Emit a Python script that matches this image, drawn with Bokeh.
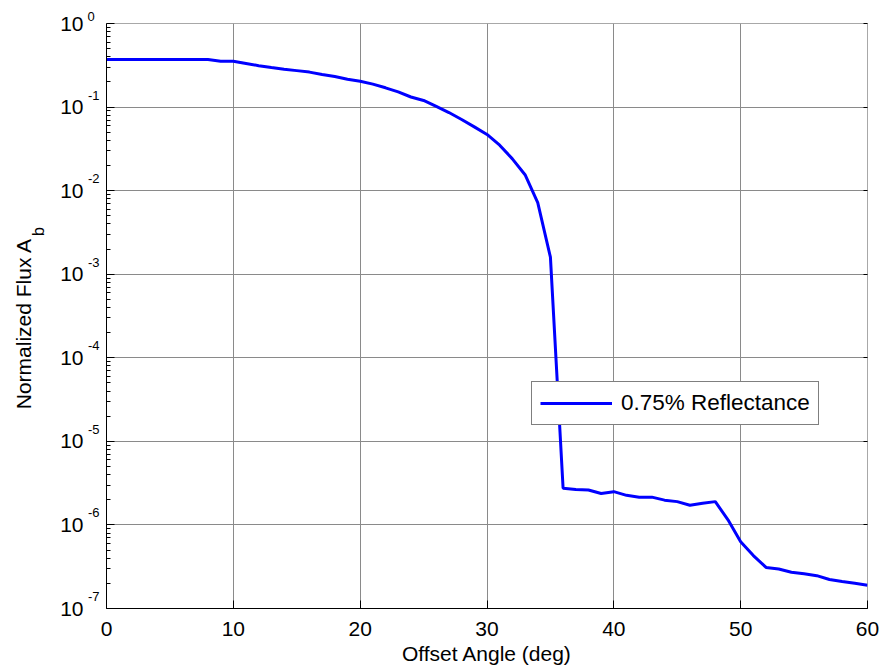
import numpy as np
from bokeh.plotting import figure
from bokeh.models import (Range1d, FixedTicker, Legend, LegendItem, LinearAxis, LogAxis,
                          LinearScale, CustomJSTickFormatter)
from bokeh.embed import file_html
from bokeh.resources import INLINE

# ---- data ----
angle_deg = list(range(61))
flux = [0.37, 0.37, 0.37, 0.37, 0.37, 0.37, 0.37, 0.37, 0.37, 0.354,
        0.354, 0.333, 0.313, 0.297, 0.284, 0.273, 0.262, 0.245, 0.232, 0.215,
        0.204, 0.188, 0.170, 0.152, 0.132, 0.120, 0.102, 0.086, 0.071, 0.058,
        0.047, 0.035, 0.024, 0.0155, 0.0072, 0.0016, 2.75e-6, 2.65e-6, 2.62e-6, 2.38e-6,
        2.5e-6, 2.26e-6, 2.15e-6, 2.15e-6, 1.98e-6, 1.9e-6, 1.72e-6, 1.82e-6, 1.9e-6, 1.15e-6,
        6.3e-7, 4.3e-7, 3.1e-7, 2.97e-7, 2.72e-7, 2.6e-7, 2.47e-7, 2.22e-7, 2.1e-7, 2.0e-7,
        1.9e-7]
x_ticks = [0, 10, 20, 30, 40, 50, 60]
y_exponents = [-7, -6, -5, -4, -3, -2, -1, 0]
y_tick_base = "10"
y_tick_exp_labels = ["-7", "-6", "-5", "-4", "-3", "-2", "-1", "0"]
series_label = "0.75% Reflectance"
x_label = "Offset Angle (deg)"
y_label_main = "Normalized Flux A"
y_label_sub = "b"

FONT = "Liberation Sans"
FS = "21px"

# layout helpers (positions of label texts, in decades of the y axis)
EXP_SHIFT = 0.1436          # superscripts sit ~12 px above their decade
Y_LABEL_MAIN_AT = -3.59
Y_LABEL_SUB_AT = -2.49

y_major = [10.0 ** e for e in y_exponents]
y_minor = [m * 10.0 ** e for e in y_exponents[:-1] for m in range(2, 10)]

p = figure(width=889, height=670,
           x_range=Range1d(x_ticks[0], x_ticks[-1]), y_range=Range1d(y_major[0], y_major[-1]),
           y_axis_type="log", output_backend="svg", toolbar_location=None,
           min_border_left=106, min_border_right=22, min_border_top=23,
           min_border_bottom=62)
p.outline_line_color = "#a8a8a8"
p.background_fill_color = "white"
p.border_fill_color = "white"

p.extra_y_ranges = {
    "exp": Range1d(y_exponents[0] - EXP_SHIFT, y_exponents[-1] - EXP_SHIFT),
    "lab": Range1d(y_exponents[0], y_exponents[-1]),
}
p.extra_y_scales = {"exp": LinearScale(), "lab": LinearScale()}


def list_formatter(ticks, labels):
    return CustomJSTickFormatter(args=dict(t=list(ticks), l=list(labels)), code="""
        for (let i = 0; i < t.length; i++) { if (Math.abs(t[i] - tick) < 1e-9) return l[i]; }
        return '';
    """)


def bare(axis):
    axis.axis_line_color = None
    axis.major_tick_line_color = None
    axis.minor_tick_line_color = None
    axis.major_tick_in = 0
    axis.major_tick_out = 0
    axis.minor_tick_in = 0
    axis.minor_tick_out = 0
    axis.major_label_text_color = "black"
    axis.major_label_text_font = FONT
    return axis


# x axis
xa = p.xaxis[0]
xa.ticker = FixedTicker(ticks=x_ticks)
xa.major_tick_in = 8
xa.major_tick_out = 0
xa.minor_tick_line_color = None
xa.axis_line_color = "black"
xa.major_label_text_font = FONT
xa.major_label_text_font_size = FS
xa.major_label_text_color = "black"
xa.major_label_standoff = 13
xa.axis_label = x_label
xa.axis_label_text_font = FONT
xa.axis_label_text_font_size = FS
xa.axis_label_text_font_style = "normal"
xa.axis_label_text_color = "black"
xa.axis_label_standoff = 3

# main y axis: line and ticks only
ya = p.yaxis[0]
ya.ticker = FixedTicker(ticks=y_major, minor_ticks=y_minor)
ya.major_tick_in = 8
ya.major_tick_out = 0
ya.minor_tick_in = 4
ya.minor_tick_out = 0
ya.axis_line_color = "black"
ya.formatter = CustomJSTickFormatter(code="return '';")
ya.major_label_standoff = 0

# superscript exponents (the top one, above the frame, is drawn by the title below)
ax_exp = bare(LinearAxis(y_range_name="exp", ticker=FixedTicker(ticks=y_exponents[:-1])))
ax_exp.formatter = list_formatter(y_exponents[:-1], y_tick_exp_labels[:-1])
ax_exp.major_label_text_font_size = "13px"
ax_exp.major_label_standoff = 7
p.add_layout(ax_exp, "left")

# "10" bases
ax_10 = bare(LogAxis(ticker=FixedTicker(ticks=y_major)))
ax_10.formatter = CustomJSTickFormatter(args=dict(b=y_tick_base), code="return b;")
ax_10.major_label_text_font_size = FS
ax_10.major_label_standoff = 1
p.add_layout(ax_10, "left")

# y label subscript and main text
ax_sub = bare(LinearAxis(y_range_name="lab", ticker=FixedTicker(ticks=[Y_LABEL_SUB_AT])))
ax_sub.formatter = list_formatter([Y_LABEL_SUB_AT], [y_label_sub])
ax_sub.major_label_text_font_size = "16px"
ax_sub.major_label_orientation = "vertical"
ax_sub.major_label_standoff = 10
p.add_layout(ax_sub, "left")

ax_main = bare(LinearAxis(y_range_name="lab", ticker=FixedTicker(ticks=[Y_LABEL_MAIN_AT])))
ax_main.formatter = list_formatter([Y_LABEL_MAIN_AT], [y_label_main])
ax_main.major_label_text_font_size = FS
ax_main.major_label_orientation = "vertical"
ax_main.major_label_standoff = -8
p.add_layout(ax_main, "left")

# exponent of the top decade (10^0), placed just above the frame's top-left corner
p.title.text = y_tick_exp_labels[-1]
p.title.text_font = FONT
p.title.text_font_size = "13px"
p.title.text_font_style = "normal"
p.title.text_color = "black"
p.title.align = "left"
p.title.offset = -19
p.title.vertical_align = "bottom"
p.title.standoff = 6

# box ticks on the right
right = LogAxis(ticker=FixedTicker(ticks=y_major), axis_line_color=None,
                major_tick_in=4, major_tick_out=0, minor_tick_line_color=None,
                formatter=CustomJSTickFormatter(code="return '';"), major_label_standoff=0)
p.add_layout(right, "right")

# grid
p.xgrid.ticker = FixedTicker(ticks=x_ticks)
p.ygrid.ticker = FixedTicker(ticks=y_major)
for g in (p.xgrid[0], p.ygrid[0]):
    g.grid_line_color = "#8a8a8a"
    g.grid_line_width = 1
    g.minor_grid_line_color = None

# data line
r = p.line(angle_deg, flux, line_color="#0000ff", line_width=3)

legend = Legend(items=[LegendItem(label=series_label, renderers=[r])],
                location=(425, 183))
legend.label_text_font = FONT
legend.label_text_font_size = "22.5px"
legend.label_text_color = "black"
legend.glyph_width = 72
legend.glyph_height = 20
legend.label_standoff = 9
legend.padding = 8
legend.margin = 0
legend.border_line_color = "black"
legend.border_line_width = 1
legend.background_fill_color = "white"
legend.background_fill_alpha = 1
p.add_layout(legend)

open("out.html", "w").write(file_html(p, INLINE))
